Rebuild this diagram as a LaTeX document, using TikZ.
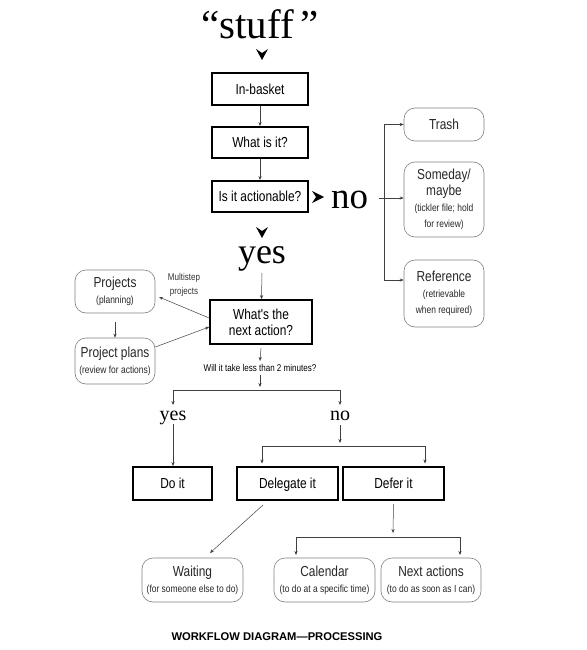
\documentclass[tikz,border=0pt]{standalone}
\usepackage{fontspec}
\setmainfont{Liberation Serif}
\newfontfamily\bx[FakeStretch=0.82]{Liberation Sans}
\newfontfamily\capfont{Liberation Sans}
\usetikzlibrary{arrows.meta,calc}
\newcommand\smalltxt[1]{{\fontsize{10.3}{14}\selectfont #1}}
\begin{document}
\begin{tikzpicture}[x=1pt,y=-1pt,
  box/.style={draw=black, line width=1.8pt, inner sep=0pt, align=center,
    font=\bx\fontsize{14.5}{16}\selectfont},
  sl/.style={text height=10.5pt, text depth=0pt},
  rbox/.style={draw=black!50, line width=0.6pt, rounded corners=11pt, inner sep=0pt,
    align=center, text=black!85, font=\bx\fontsize{14.5}{16}\selectfont},
  big/.style={font=\fontsize{36}{36}\selectfont, inner sep=0pt, anchor=base},
  mid/.style={font=\fontsize{20}{20}\selectfont, inner sep=0pt, anchor=base},
  note/.style={inner sep=0pt, align=center, text=black!80, font=\bx\fontsize{9.8}{14}\selectfont},
  arr/.style={draw=black!75, line width=0.5pt, -{Stealth[length=4pt,width=3.2pt]}},
  ln/.style={draw=black!75, line width=0.5pt},
  chev/.style={fill=black}
]
\useasboundingbox (0,0) rectangle (586,650);

% title and main column
\node[big, font=\fontsize{41}{41}\selectfont] (stuff) at (260,39) {“stuff\,”};
\node[box, sl, minimum width=96pt, minimum height=32pt] (inbasket) at (260,89) {In-basket};
\node[box, sl, minimum width=96pt, minimum height=31pt] (whatis) at (260,142.5) {What is it?};
\node[box, sl, minimum width=96pt, minimum height=31pt] (action) at (260,196.5) {Is it actionable?};
\node[big, font=\fontsize{37}{37}\selectfont] (no) at (349.5,208) {no};
\node[big] (yes) at (262,263) {yes};
\node[box, minimum width=102pt, minimum height=44pt] (whats) at (261,322) {What's the\\next action?};

% chevrons
\fill[chev] (256,49) -- (262,53) -- (268,49) -- (262,60) -- cycle;
\fill[chev] (312,191) -- (316,197) -- (312,203) -- (324,197) -- cycle;
\fill[chev] (256,227) -- (262,231) -- (268,227) -- (262,238) -- cycle;

\draw[arr] (inbasket) -- (whatis);
\draw[arr] (whatis) -- (action);
\draw[arr] (yes.south |- 0,273) -- (whats);

% "no" branch
\node[rbox, sl, minimum width=80pt, minimum height=33pt] (trash) at (444,124.5) {Trash};
\node[rbox, minimum width=80pt, minimum height=75pt] (someday) at (444,199.5)
  {Someday/\\maybe\\\smalltxt{(tickler file; hold}\\\smalltxt{for review)}};
\node[rbox, minimum width=80pt, minimum height=67pt] (reference) at (444,293.5)
  {Reference\\\smalltxt{(retrievable}\\\smalltxt{when required)}};
\coordinate (bus) at (384,198);
\coordinate (refin) at (reference.west |- 0,280);
\draw[ln] (379,198) -- (bus);
\draw[arr] (bus) -- (someday.west |- bus);
\draw[arr] (bus) |- (trash.west);
\draw[arr] (bus) |- (refin);

% projects
\node[rbox, minimum width=80pt, minimum height=43pt] (projects) at (115,291.5)
  {Projects\\\smalltxt{(planning)}};
\node[rbox, minimum width=80pt, minimum height=46pt] (plans) at (115,361)
  {Project plans\\\smalltxt{(review for actions)}};
\node[note] (multi) at (184,285) {Multistep\\projects};
\draw[arr] (projects.south) ++(0,9) coordinate (pa) (pa) -- (plans.north);
\draw[arr] (whats.west |- 0,318) -- (159,297);
\draw[arr] (plans.east |- 0,347) -- (whats.west |- 0,327);

% 2 minute question
\node[note, text=black] (twomin) at (260,368) {Will it take less than 2 minutes?};
\draw[arr] (whats.south |- 0,348) -- (twomin.north |- 0,361);
\draw[arr] (twomin.south |- 0,375) -- (260,387);
\node[mid] (yes2) at (173,420) {yes};
\node[mid] (no2) at (340,420) {no};
\draw[ln] (173,390) -- (340,390);
\draw[arr] (173,390) -- (173,405);
\draw[arr] (340,390) -- (340,405);

% second row
\node[box, sl, minimum width=79pt, minimum height=33pt] (doit) at (172.5,483.5) {Do it};
\node[box, sl, minimum width=101pt, minimum height=33pt] (delegate) at (287.5,483.5) {Delegate it};
\node[box, sl, minimum width=101pt, minimum height=33pt] (defer) at (393.5,483.5) {Defer it};
\draw[arr] (yes2.south |- 0,424) -- (doit.north -| yes2.south);
\draw[arr] (no2.south |- 0,425) -- (340,443);
\draw[ln] (262,446) -- (425,446);
\draw[arr] (262,446) -- (262,463.5);
\draw[arr] (425,446) -- (425,463.5);

% bottom row
\node[rbox, minimum width=101pt, minimum height=44pt] (waiting) at (192.5,580)
  {Waiting\\\smalltxt{(for someone else to do)}};
\node[rbox, minimum width=101pt, minimum height=44pt] (calendar) at (324.5,580)
  {Calendar\\\smalltxt{(to do at a specific time)}};
\node[rbox, minimum width=100pt, minimum height=44pt] (nextact) at (431,580)
  {Next actions\\\smalltxt{(to do as soon as I can)}};
\draw[arr] (263,505) -- (210,553);
\draw[arr] (defer.south |- 0,504) -- (393,533);
\draw[ln] (296,537) -- (460,537);
\draw[arr] (296,537) -- (296,555);
\draw[arr] (460,537) -- (460,555);

% caption
\node[inner sep=0pt, font=\capfont\bfseries\fontsize{11.2}{12}\selectfont] (caption) at (277,637)
  {WORKFLOW DIAGRAM—PROCESSING};
\end{tikzpicture}
\end{document}
